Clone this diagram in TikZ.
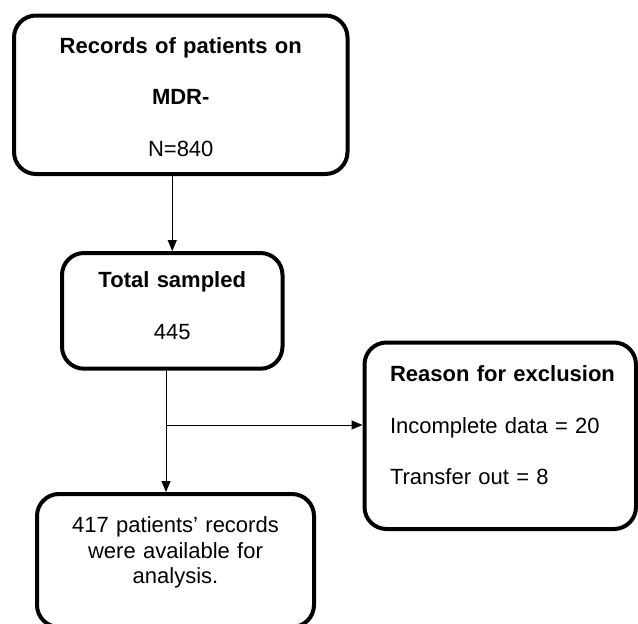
\documentclass[tikz,border=0pt]{standalone}
\usepackage{fontspec}
\setmainfont{Liberation Sans}
\usetikzlibrary{arrows.meta}

\begin{document}
\begin{tikzpicture}
            [x=1pt,y=-1pt,>={Triangle[length=11pt,width=9pt]},
             main/.style = {draw,rectangle,line width=4pt,rounded corners=22pt,inner sep=0pt,anchor=north west,align=center,font=\fontsize{22}{25.5}\selectfont}]
            \useasboundingbox (0,0) rectangle (638,624);
            \clip (0,0) rectangle (638,624);

            \node[main,text width=333.5pt,text height=37.8pt,text depth=120.7pt] (Records) at (12,13.5) {\textbf{Records of patients on}\\[26pt]\textbf{MDR-}\\[26pt]N=840};
            \node[main,text width=220.5pt,text height=34.7pt,text depth=81pt] (Sampled) at (60,251) {\textbf{Total sampled}\\[26pt]445};
            \node[main,align=left,inner xsep=25.5pt,text width=220.5pt,text height=39.2pt,text depth=147.3pt] (Exclusion) at (362.5,340.5) {\mbox{\textbf{Reason for exclusion}}\\[26pt]Incomplete data = 20\\[26pt]Transfer out = 8};
            \node[main,text width=277pt,text height=38.7pt,text depth=94.3pt] (Final) at (35,492) {417 patients' records\\were available for\\analysis.};
            \coordinate (Split) at (166,425);

            \path[->,line width=1pt] (Records.south -| Sampled.north) edge (Sampled.north);
            \path[->,line width=1pt] (Sampled.south -| Split) edge (Final.north -| Split);
            \path[->,line width=1pt] (Split) edge (Split -| Exclusion.west);
        \end{tikzpicture}
\end{document}
